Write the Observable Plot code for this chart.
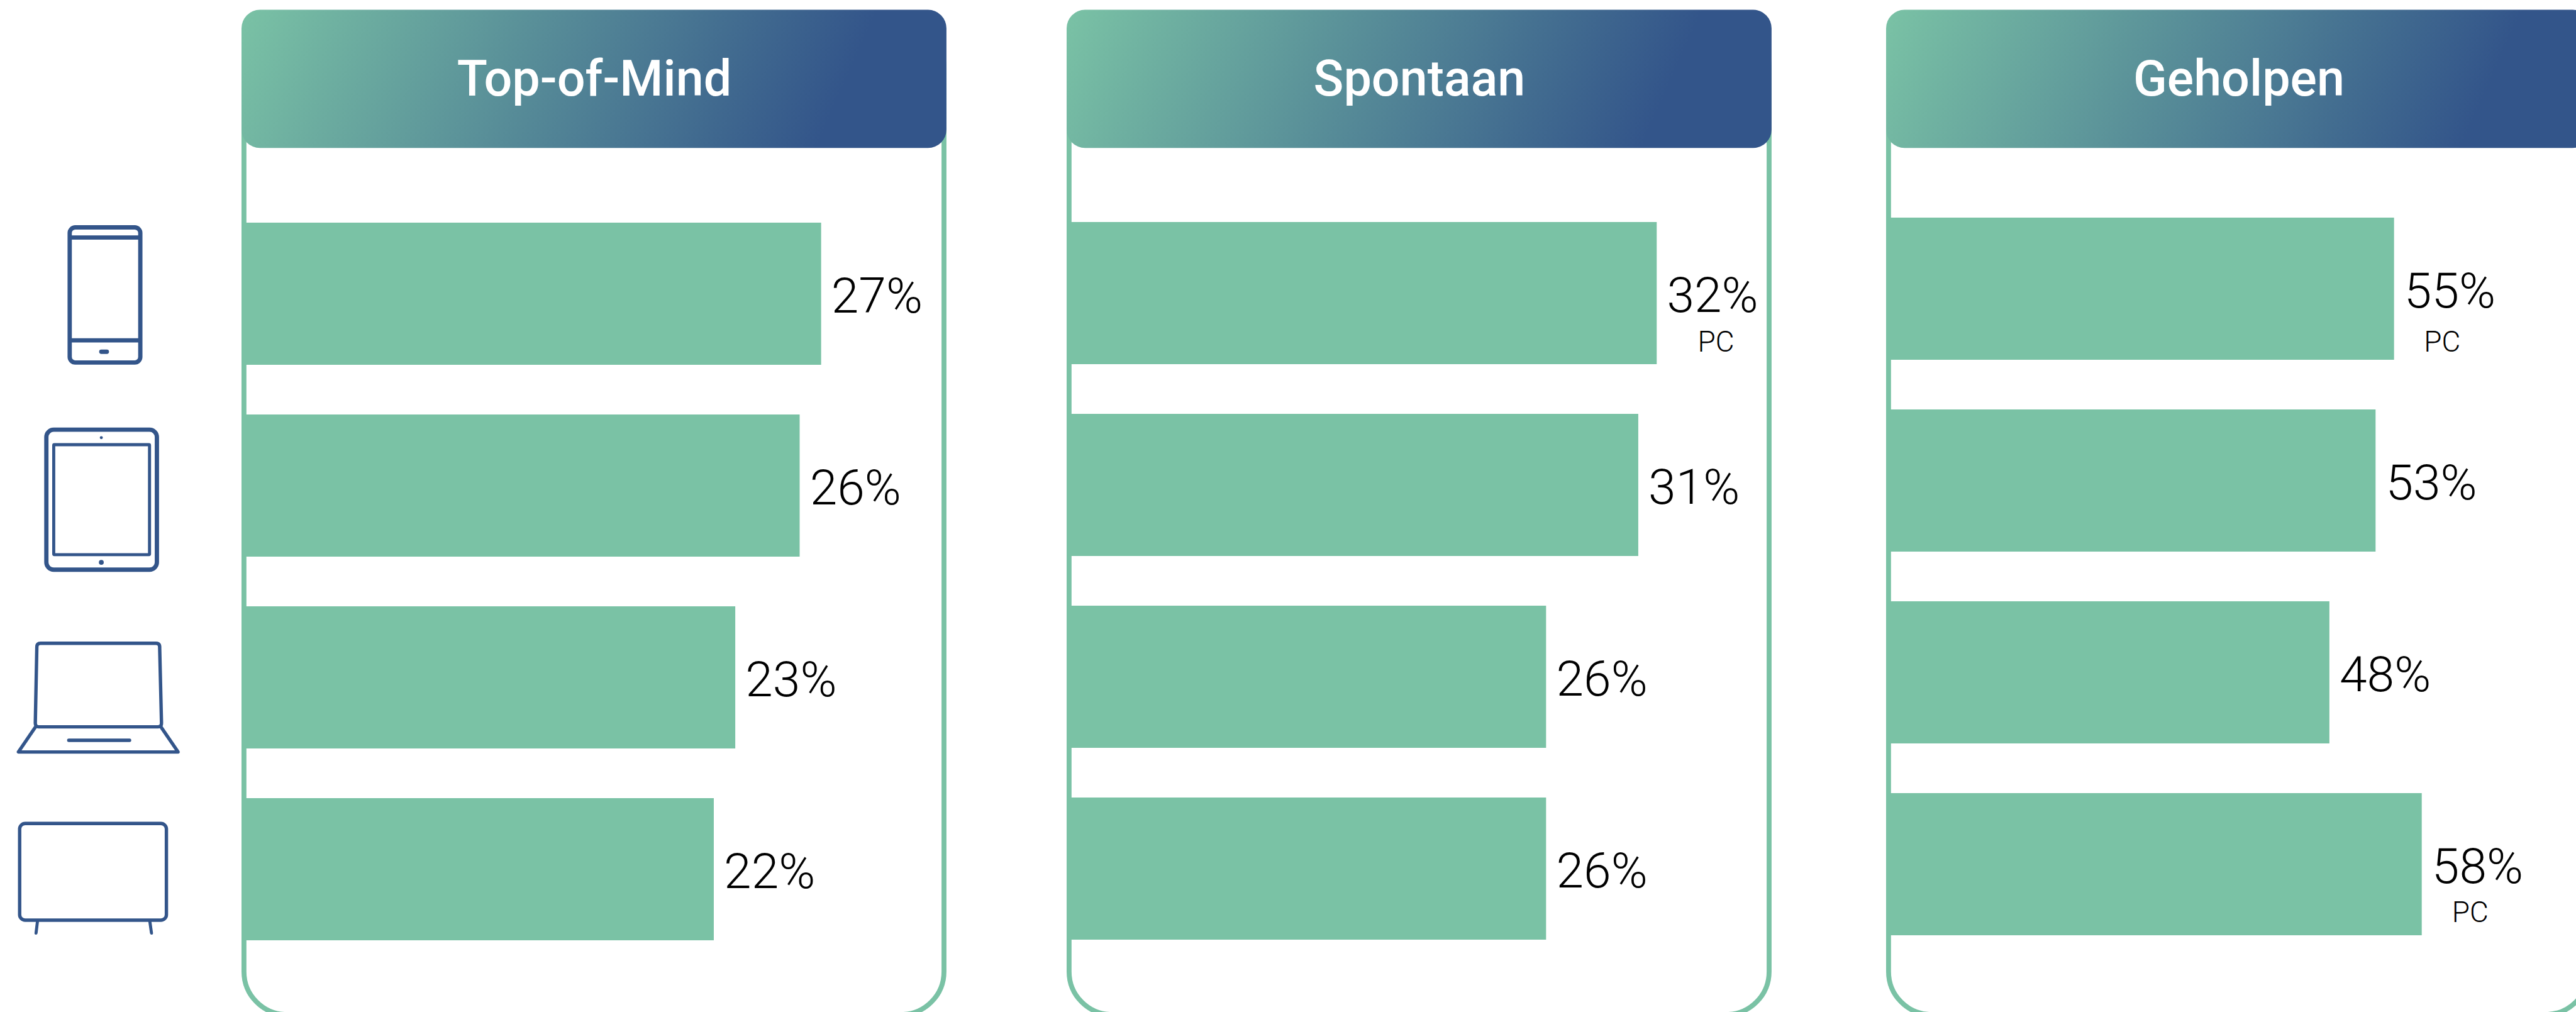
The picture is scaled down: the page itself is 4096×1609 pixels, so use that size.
<!DOCTYPE html>
<html>
<head>
<meta charset="utf-8">
<script src="https://cdn.jsdelivr.net/npm/d3@7"></script>
<script src="https://cdn.jsdelivr.net/npm/@observablehq/plot@0.6"></script>
<style>
html,body{margin:0;padding:0;background:#fff;}
#chart{position:relative;width:4096px;height:1609px;overflow:hidden;background:#fff;}
</style>
</head>
<body>
<div id="chart"></div>
<script>
// ---- data ----
const devices = ["Smartphone", "Tablet", "Laptop", "TV"];
const panelNames = ["Top-of-Mind", "Spontaan", "Geholpen"];
const topOfMind = [27, 26, 23, 22];
const spontaan = [32, 31, 26, 26];
const geholpen = [55, 53, 48, 58];
const pcNotes = [
  {panel: "Spontaan", device: "Smartphone"},
  {panel: "Geholpen", device: "Smartphone"},
  {panel: "Geholpen", device: "TV"}
];
const seriesByPanel = {"Top-of-Mind": topOfMind, "Spontaan": spontaan, "Geholpen": geholpen};

// ---- layout (reference pixels) and styles ----
const S = 4096 / 4195;
const GREEN = "#7AC2A5", BLUE = "#33558A", FONT = "Roboto, sans-serif";
const layout = {
  "Top-of-Mind": {left: 393, width: 1148, perPoint: 34.96, barTop: 362, barBottom: 1531},
  "Spontaan":    {left: 1737, width: 1148, perPoint: 30.03, barTop: 361, barBottom: 1529.5},
  "Geholpen":    {left: 3071, width: 1148, perPoint: 15.04, barTop: 353, barBottom: 1523}
};
const pcOffsets = {
  "Spontaan/Smartphone": {dx: 96, dy: 94.5},
  "Geholpen/Smartphone": {dx: 78, dy: 102},
  "Geholpen/TV": {dx: 78.5, dy: 94}
};
const root = document.getElementById("chart");

function decoration(name, L) {
  const id = "grad" + panelNames.indexOf(name);
  return () => {
    const g = d3.create("svg:g").attr("transform", `scale(${S})`);
    g.html(`
      <defs><linearGradient id="${id}" gradientUnits="userSpaceOnUse" x1="0" y1="16" x2="865" y2="400">
        <stop offset="0" stop-color="${GREEN}"/><stop offset="1" stop-color="${BLUE}"/>
      </linearGradient></defs>
      <rect x="4" y="40" width="${L.width - 8}" height="1612" rx="70" ry="70" fill="#fff" stroke="${GREEN}" stroke-width="8"/>
      <rect x="0" y="16" width="${L.width}" height="225" rx="30" ry="30" fill="url(#${id})"/>`);
    return g.node();
  };
}

for (const name of panelNames) {
  const L = layout[name];
  const rows = devices.map((device, i) => ({device, value: seriesByPanel[name][i]}));
  const notes = pcNotes.filter(n => n.panel === name).map(n => {
    const row = rows.find(r => r.device === n.device);
    const off = pcOffsets[`${name}/${n.device}`];
    return Plot.text([row], {
      x: "value", y: "device", text: () => "PC",
      dx: off.dx * S, dy: off.dy * S, lineAnchor: "bottom", textAnchor: "middle",
      fontFamily: FONT, fontWeight: 300, fontSize: 47 * S, fill: "#000"
    });
  });
  const plot = Plot.plot({
    width: L.width * S,
    height: 1609,
    margin: 0,
    style: {position: "absolute", left: `${L.left * S}px`, top: "0px", maxWidth: "none", background: "transparent", overflow: "hidden"},
    x: {domain: [0, L.width / L.perPoint], range: [0, L.width * S], axis: null},
    y: {type: "band", domain: devices, range: [L.barTop * S, L.barBottom * S], padding: 0.26, paddingOuter: 0, axis: null},
    marks: [
      decoration(name, L),
      Plot.text([name], {
        frameAnchor: "top", dy: 155.5 * S, lineAnchor: "bottom", textAnchor: "middle",
        fontFamily: FONT, fontWeight: 500, fontSize: 81 * S, fill: "#fff"
      }),
      Plot.barX(rows, {x: "value", y: "device", fill: GREEN}),
      Plot.text(rows, {
        x: "value", y: "device", text: d => d.value + "%",
        dx: 16 * S, dy: 30 * S, lineAnchor: "bottom", textAnchor: "start",
        fontFamily: FONT, fontWeight: 300, fontSize: 80.5 * S, fill: "#000"
      }),
      ...notes
    ]
  });
  root.appendChild(plot);
}

// ---- device icons, placed on the same band scale as the first panel's bars ----
const icons = {
  "Smartphone": {cy: 477.5, svg: `
    <rect x="113.5" y="369.5" width="115" height="220" rx="9"/>
    <path d="M113.5 386H228.5M113.5 553.5H228.5"/>
    <path d="M165 572H174" stroke-linecap="round"/>`},
  "Tablet": {cy: 790, svg: `
    <rect x="75.5" y="699" width="180" height="228" rx="12"/>
    <rect x="87.5" y="723.5" width="156" height="179" rx="1" stroke-width="5"/>
    <circle cx="165" cy="712" r="2.5" fill="${BLUE}" stroke="none"/>
    <circle cx="165" cy="915" r="4" fill="${BLUE}" stroke="none"/>`},
  "Laptop": {cy: 1102.5, svg: `
    <path stroke-width="5.5" d="M60 1053Q60 1047 66 1047H254Q260 1047 260 1053L263 1177Q263 1183 257 1183H63Q57.5 1183 57.5 1177Z"/>
    <path stroke-width="5.5" stroke-linejoin="round" d="M58 1183L30 1224H290L262 1183"/>
    <path stroke-width="5.5" stroke-linecap="round" d="M112 1205H211"/>`},
  "TV": {cy: 1415, svg: `
    <rect stroke-width="5.5" x="32" y="1340.5" width="239" height="157.5" rx="9"/>
    <path stroke-width="5" stroke-linecap="round" d="M61 1500L58.7 1519M244 1500L246.7 1519"/>`}
};
const iconPlot = Plot.plot({
  width: 393 * S,
  height: 1609,
  margin: 0,
  style: {position: "absolute", left: "0px", top: "0px", maxWidth: "none", background: "transparent"},
  x: {axis: null},
  y: {type: "band", domain: devices, range: [layout["Top-of-Mind"].barTop * S, layout["Top-of-Mind"].barBottom * S], padding: 0.26, paddingOuter: 0, axis: null},
  marks: [Plot.dot(devices, {y: d => d, r: 0})]
});
const yScale = iconPlot.scale("y");
for (const device of devices) {
  const icon = icons[device];
  const centre = yScale.apply(device) + yScale.bandwidth / 2;
  d3.select(iconPlot).append("g")
    .attr("transform", `translate(0,${centre}) scale(${S}) translate(0,${-icon.cy})`)
    .attr("fill", "none").attr("stroke", BLUE).attr("stroke-width", 7)
    .html(icon.svg);
}
root.appendChild(iconPlot);
</script>
</body>
</html>
